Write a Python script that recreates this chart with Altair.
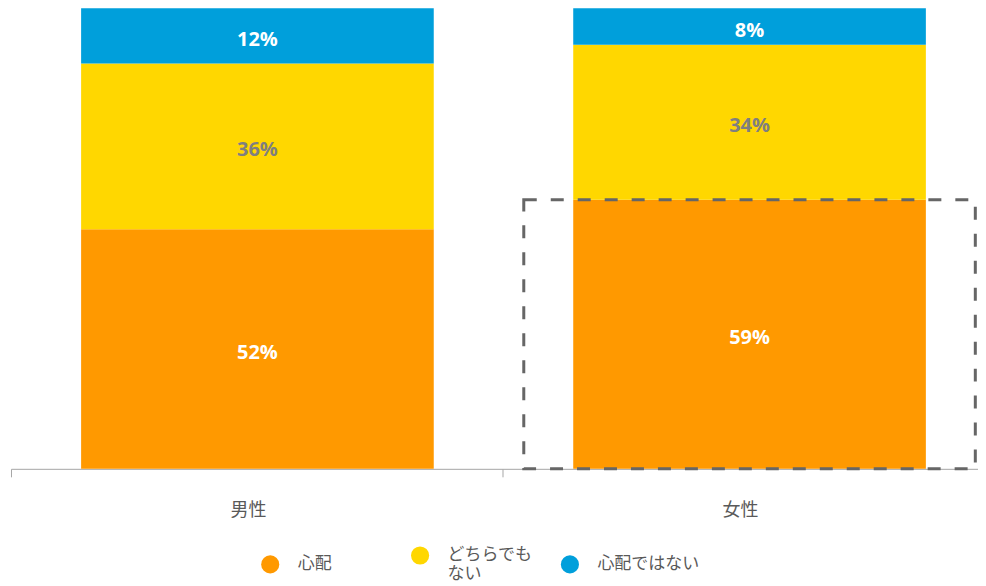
import altair as alt
import pandas as pd

genders = ["男性", "女性"]
categories = ["心配", "どちらでもない", "心配ではない"]
male = [52, 36, 12]
female = [59, 34, 8]
colors = ["#FF9900", "#FFD700", "#009FDB"]
label_colors = ["#FFFFFF", "#7F7F7F", "#FFFFFF"]

rows = []
for g, vals in zip(genders, [male, female]):
    for i, (c, v) in enumerate(zip(categories, vals)):
        rows.append({"gender": g, "cat": c, "value": v, "order": i,
                     "label": f"{v}%", "lc": label_colors[i]})
df = pd.DataFrame(rows)

box_df = pd.DataFrame([{"gender": "女性", "y0": 0.0, "y1": female[0] / sum(female)}])

x_enc = alt.X("gender:N", sort=genders,
              scale=alt.Scale(paddingInner=0.035, paddingOuter=0),
              axis=alt.Axis(title=None, labelAngle=0, bandPosition=0,
                            domainColor="#A6A6A6", tickColor="#A6A6A6", tickSize=8,
                            labelColor="#595959", labelFontSize=18, labelPadding=25,
                            labelFont="Noto Sans CJK JP", grid=False))

bars = alt.Chart(df).mark_bar(size=353, xOffset=9).encode(
    x=x_enc,
    y=alt.Y("value:Q", stack="normalize", axis=None, scale=alt.Scale(domain=[0, 1], nice=False)),
    color=alt.Color("cat:N", sort=categories,
                    scale=alt.Scale(domain=categories, range=colors),
                    legend=alt.Legend(title=None, orient="none", legendX=250, legendY=538,
                                      direction="horizontal", columns=3, gridAlign="all",
                                      symbolType="circle", symbolSize=330, symbolStrokeWidth=0,
                                      labelFontSize=17, labelColor="#595959",
                                      labelFont="Noto Sans CJK JP", labelOffset=18,
                                      columnPadding=11, labelLimit=200, padding=0,
                                      labelExpr="datum.label == 'どちらでもない' ? ['どちらでも', 'ない'] : datum.label")),
    order=alt.Order("order:Q"),
)

texts = alt.Chart(df).mark_text(fontSize=20, fontWeight="bold", font="Open Sans", dy=4, xOffset=9).encode(
    x=alt.X("gender:N", sort=genders),
    y=alt.Y("value:Q", stack="normalize", bandPosition=0.5),
    text="label:N",
    color=alt.Color("lc:N", scale=None),
    order=alt.Order("order:Q"),
)

box = alt.Chart(box_df).mark_bar(size=452, fillOpacity=0, stroke="#666666", strokeWidth=3,
                                 strokeDash=[13, 14], xOffset=9).encode(
    x=alt.X("gender:N", sort=genders),
    y=alt.Y("y0:Q"),
    y2="y1:Q",
)

chart = alt.layer(bars, texts, box).properties(
    width=968, height=461,
    padding={"left": 2, "top": 0, "right": 0, "bottom": 0},
).configure(background="white").configure_view(strokeWidth=0, stroke="transparent")

chart.save("out.html", embed_options={"renderer": "svg", "actions": False})
